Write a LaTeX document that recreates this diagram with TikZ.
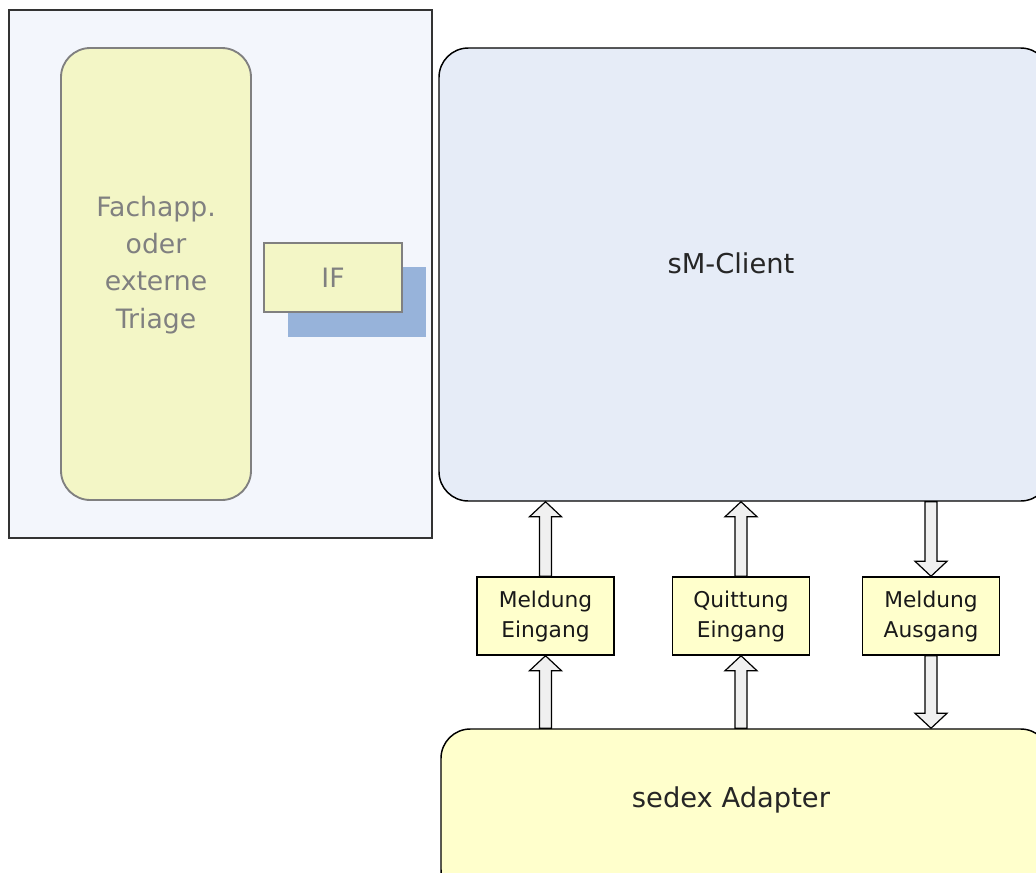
\documentclass[tikz,border=0pt]{standalone}
\usepackage{fontspec}
\setmainfont{DejaVu Sans}
\usetikzlibrary{calc}

\definecolor{framebg}{HTML}{F3F6FC}
\definecolor{fachyellow}{HTML}{F3F6C6}
\definecolor{ifshade}{HTML}{97B3DA}
\definecolor{clientblue}{HTML}{E6ECF7}
\definecolor{boxyellow}{HTML}{FFFFCC}
\definecolor{arrowgray}{HTML}{F0F0F0}
\definecolor{textgray}{HTML}{808080}

% hollow block arrow: start, tip, head offset
\newcommand\blockarrow[3]{%
  \draw[arrowbody] ($(#1)+(-6,0)$) -- ($(#2)+(-6,#3)$) -- ($(#2)+(-16,#3)$) -- (#2)
    -- ($(#2)+(16,#3)$) -- ($(#2)+(6,#3)$) -- ($(#1)+(6,0)$) -- cycle;}

\begin{document}
\begin{tikzpicture}[x=0.75pt,y=-0.75pt,
  frame/.style={draw=black!80,line width=1.1pt,fill=framebg,inner sep=0pt,
    minimum width=423*0.75pt,minimum height=528*0.75pt},
  fachbox/.style={draw=textgray,line width=1.4pt,fill=fachyellow,rounded corners=22pt,
    inner sep=0pt,align=center,text=textgray,font=\fontsize{20}{28}\selectfont,
    minimum width=190*0.75pt,minimum height=452*0.75pt},
  ifbox/.style={draw=textgray,line width=1.4pt,fill=fachyellow,inner sep=0pt,
    text=textgray,font=\fontsize{20}{24}\selectfont,
    minimum width=138*0.75pt,minimum height=69*0.75pt},
  shade/.style={fill=ifshade,inner sep=0pt,minimum width=138*0.75pt,minimum height=70*0.75pt},
  bigbox/.style={draw=black,line width=1.1pt,rounded corners=22pt,inner sep=0pt},
  bigtext/.style={text=black!85,font=\fontsize{20.5}{24}\selectfont,inner sep=0pt},
  box/.style={draw=black,line width=1.1pt,fill=boxyellow,inner sep=0pt,align=center,
    text=black!90,font=\fontsize{16.3}{22.5}\selectfont,
    minimum width=137*0.75pt,minimum height=78*0.75pt},
  arrowbody/.style={draw=black,line width=0.9pt,fill=arrowgray,line join=miter}]
\useasboundingbox (0,0) rectangle (1036,872);
\clip (0,0) rectangle (1036,872);

\node[frame] (outer) at (220.5,274) {};
\node[fachbox] (fach) at (156,274) {Fachapp.\\oder\\externe\\Triage\\[-10pt]};
\node[shade] (ifshadow) at (357,302) {};
\node[ifbox] (if) at (333,277.5) {IF};

\node[bigbox,fill=clientblue,minimum width=611*0.75pt,minimum height=453*0.75pt]
  (client) at (744.5,274.5) {};
\node[bigtext] (clientlabel) at (731,263) {sM-Client};

\node[box] (min) at (545.5,616) {Meldung\\Eingang};
\node[box] (qin) at (741,616) {Quittung\\Eingang};
\node[box] (mout) at (931,616) {Meldung\\Ausgang};

\node[bigbox,fill=boxyellow,minimum width=609*0.75pt,minimum height=170*0.75pt]
  (adapter) at (745.5,814) {};
\node[bigtext] (adapterlabel) at (731,800) {sedex Adapter};

\blockarrow{min.north}{min.north |- client.south}{15}
\blockarrow{qin.north}{qin.north |- client.south}{15}
\blockarrow{mout.north |- client.south}{mout.north}{-15}
\blockarrow{min.south |- adapter.north}{min.south}{15}
\blockarrow{qin.south |- adapter.north}{qin.south}{15}
\blockarrow{mout.south}{mout.south |- adapter.north}{-15}
\end{tikzpicture}
\end{document}
